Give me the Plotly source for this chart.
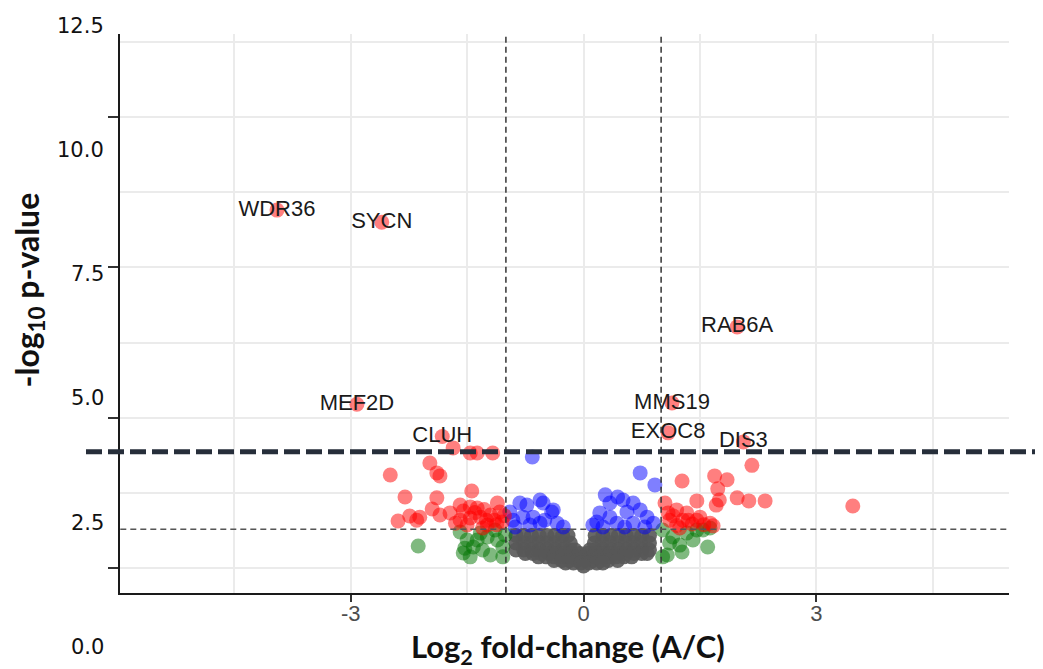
import plotly.graph_objects as go

# ---------------- data (log2 fold-change, -log10 p) ----------------
LABEL_GENES = ["WDR36", "SYCN", "MEF2D", "CLUH", "RAB6A", "MMS19", "EXOC8", "DIS3"]
LABEL_LOG2FC = [-3.95, -2.60, -2.92, -1.82, 1.98, 1.14, 1.09, 2.06]
LABEL_NLOGP = [11.9, 11.5, 5.45, 4.38, 8.02, 5.49, 4.50, 4.20]

RED_X = [-1.68, -1.46, -1.37, -1.17, -1.98, -2.49, -1.89, -1.85, -1.44, -2.30, -1.89,
         -1.59, -1.46, -1.37, -1.11, -1.95, -1.85, -1.72, -2.24, -2.11, -2.15, -2.39,
         -1.59, -1.46, -1.33, -1.20, -1.08, -1.50, -1.24, -1.05, -1.30, -1.15, -1.02,
         -1.40, -1.28, -1.55, -1.25, -1.12, -1.65,
         2.17, 1.27, 1.69, 1.85, 1.73, 1.46, 1.75, 1.71, 1.98, 2.13, 2.34, 3.47, 1.05,
         1.20, 1.33, 1.11, 1.28, 1.46, 1.63, 1.67, 1.24, 1.50, 1.40, 1.09, 1.15, 1.35,
         1.55, 1.20]
RED_Y = [4.00, 3.83, 3.83, 3.83, 3.50, 3.10, 3.17, 3.07, 2.57, 2.37, 2.34,
         2.10, 2.04, 2.00, 2.17, 1.97, 1.77, 1.84, 1.74, 1.70, 1.60, 1.57,
         1.60, 1.67, 1.70, 1.77, 1.87, 1.44, 1.44, 1.54, 1.34, 1.60, 1.75,
         1.85, 1.95, 1.90, 1.60, 1.45, 1.50,
         3.42, 2.90, 3.07, 2.94, 2.64, 2.24, 2.27, 2.10, 2.34, 2.24, 2.24, 2.07, 2.17,
         1.94, 1.84, 1.60, 1.60, 1.60, 1.50, 1.41, 1.34, 1.70, 1.47, 1.84, 1.75, 1.60,
         1.45, 1.42]

BLUE_X = [-0.66, -0.95, -0.82, -0.73, -0.56, -0.52, -0.41, -0.65, -0.78, -0.34, -0.26,
          -0.91, -0.56, -0.39, -0.50, -0.69, -0.88,
          0.28, 0.44, 0.34, 0.51, 0.64, 0.21, 0.17, 0.34, 0.56, 0.73, 0.82, 0.90, 0.64,
          0.43, 0.92, 0.73, 0.25, 0.53, 0.79, 0.12]
BLUE_Y = [3.70, 1.87, 2.17, 2.10, 2.27, 2.17, 1.87, 1.70, 1.70, 1.50, 1.37,
          1.60, 1.50, 1.94, 1.60, 1.44, 1.37,
          2.44, 2.37, 2.17, 2.27, 2.17, 1.84, 1.54, 1.70, 1.87, 1.94, 1.70, 1.50, 1.50,
          1.50, 2.77, 3.17, 1.37, 1.37, 1.37, 1.44]

GREEN_X = [-2.13, -1.59, -1.50, -1.53, -1.55, -1.37, -1.24, -1.11, -1.46, -1.30, -1.04,
           -1.20, -1.04, -1.42, -1.14, -1.33, -1.01,
           1.02, 1.15, 1.33, 1.46, 1.63, 1.60, 1.27, 1.08, 1.41, 1.11, 1.02, 1.54, 1.24]
GREEN_Y = [0.74, 1.21, 0.94, 0.67, 0.51, 0.94, 1.04, 0.94, 0.38, 0.61, 0.71,
           0.44, 0.38, 0.71, 1.27, 1.17, 1.11,
           1.27, 1.04, 1.17, 1.27, 1.34, 0.71, 0.54, 0.44, 0.94, 0.84, 0.38, 1.27, 0.77]

GRAY_X = [-0.87, -0.77, -0.67, -0.57, -0.47, -0.37, -0.27, -0.20, 0.15, 0.25, 0.35, 0.45, 0.55, 0.65, 0.75, 0.85,
          -0.87, -0.77, -0.67, -0.57, -0.47, -0.37, -0.27, -0.17, 0.14, 0.24, 0.34, 0.44, 0.54, 0.64, 0.74, 0.85,
          -0.87, -0.77, -0.67, -0.57, -0.47, -0.37, -0.27, -0.17, -0.11, 0.08, 0.15, 0.25, 0.35, 0.45, 0.55, 0.65, 0.75, 0.85,
          -0.75, -0.65, -0.55, -0.45, -0.35, -0.25, -0.15, -0.05, 0.05, 0.15, 0.25, 0.35, 0.45, 0.55, 0.65, 0.75, 0.82,
          -0.58, -0.48, -0.38, -0.28, -0.18, -0.08, 0.02, 0.12, 0.22, 0.32, 0.42, 0.52, 0.62,
          -0.38, -0.28, -0.18, -0.08, 0.02, 0.12, 0.22, 0.32, 0.44,
          -0.23, -0.13, -0.03, 0.07, 0.17, 0.25,
          0.00]
GRAY_Y = [1.09] * 16 + [0.84] * 16 + [0.61] * 18 + [0.49] * 17 + [0.38] * 13 + [0.26] * 9 + [0.18] * 6 + [0.08]

X_TICKS = [-3, 0, 3]
X_TICK_TEXT = ["-3", "0", "3"]
X_MINOR = [-4.5, -1.5, 1.5, 4.5]
Y_TICKS = [0, 5, 10, 15]
Y_MINOR = [2.5, 7.5, 12.5, 17.5]
Y_LABEL_VALUES = [0.0, 2.5, 5.0, 7.5, 10.0, 12.5]
Y_LABEL_TEXT = ["0.0", "2.5", "5.0", "7.5", "10.0", "12.5"]

FC_CUT = 1.0
P_CUT = 1.3
STRICT_CUT = 3.874

# page body has an 8px margin: size the figure to fit the window
OFF = 8
W, H = 1043 - OFF, 669 - OFF


def px_x(p):
    return (p - OFF) / W


def px_y(p):
    return (669 - p) / H


fig = go.Figure()


def pts(x, y, color, name):
    fig.add_trace(go.Scatter(x=x, y=y, mode="markers", name=name, showlegend=False,
                             marker=dict(size=15, color=color, line=dict(width=0))))


pts(GRAY_X, GRAY_Y, "rgba(88,88,88,0.9)", "NS")
pts(GREEN_X, GREEN_Y, "rgba(0,115,0,0.5)", "FC")
pts(BLUE_X, BLUE_Y, "rgba(0,0,255,0.5)", "p")
pts(RED_X, RED_Y, "rgba(255,0,0,0.5)", "p & FC")

fig.add_trace(go.Scatter(x=LABEL_LOG2FC, y=LABEL_NLOGP, mode="markers+text",
                         text=LABEL_GENES, textposition="middle center",
                         textfont=dict(family="Liberation Sans, Arial", size=22, color="#1a1a1a"),
                         marker=dict(size=15, color="rgba(255,0,0,0.5)", line=dict(width=0)),
                         showlegend=False))

# threshold lines
for xv in (-FC_CUT, FC_CUT):
    fig.add_shape(type="line", xref="x", yref="y domain", x0=xv, x1=xv, y0=0, y1=1,
                  line=dict(color="#333333", width=1.5, dash="6px,4px"))
fig.add_shape(type="line", xref="x domain", yref="y", x0=0, x1=1, y0=P_CUT, y1=P_CUT,
              line=dict(color="#555555", width=1.5, dash="6px,4px"))
fig.add_shape(type="line", xref="paper", yref="y", x0=px_x(86), x1=1.0, y0=STRICT_CUT, y1=STRICT_CUT,
              line=dict(color="#262e3a", width=5, dash="16px,6px"))

# overlay y labels
for v, t in zip(Y_LABEL_VALUES, Y_LABEL_TEXT):
    fig.add_annotation(x=px_x(106), y=px_y(647 - 49.72 * v), xref="paper", yref="paper",
                       text=t, showarrow=False, xanchor="right", yanchor="middle",
                       font=dict(family="DejaVu Sans", size=21, color="#111111"))

# axis titles
fig.add_annotation(x=px_x(567.5), y=px_y(648), xref="paper", yref="paper",
                   text="<b>Log<sub>2</sub> fold-change (A/C)</b>", showarrow=False,
                   xanchor="center", yanchor="middle",
                   font=dict(family="Lato", size=31, color="#111111"))
fig.add_annotation(x=px_x(28.5), y=px_y(290), xref="paper", yref="paper",
                   text="<b>-log<sub>10</sub> p-value</b>", showarrow=False, textangle=-90,
                   xanchor="center", yanchor="middle",
                   font=dict(family="Lato", size=32, color="#111111"))

fig.update_layout(
    width=W, height=H,
    margin=dict(l=0, r=0, t=0, b=0, pad=0),
    paper_bgcolor="white", plot_bgcolor="white",
    xaxis=dict(domain=[px_x(120.3), px_x(1009)], range=[-5.969, 5.483],
               tickvals=X_TICKS, ticktext=X_TICK_TEXT, ticks="outside", ticklen=7,
               tickwidth=2, tickcolor="#333333", ticklabelstandoff=-7,
               tickfont=dict(family="Liberation Sans, Arial", size=22, color="#4d4d4d"),
               showline=True, linecolor="#1a1a1a", linewidth=2,
               showgrid=True, gridcolor="#ebebeb", gridwidth=2, zeroline=False,
               minor=dict(tickvals=X_MINOR, showgrid=True, gridcolor="#ebebeb", gridwidth=1.5, ticks=""),
               automargin=False),
    yaxis=dict(domain=[px_y(592.7), px_y(34)], range=[-0.8106, 17.751],
               tickvals=Y_TICKS, showticklabels=False, ticks="outside", ticklen=10,
               tickwidth=2, tickcolor="#333333",
               showline=True, linecolor="#1a1a1a", linewidth=2,
               showgrid=True, gridcolor="#ebebeb", gridwidth=2, zeroline=False,
               minor=dict(tickvals=Y_MINOR, showgrid=True, gridcolor="#ebebeb", gridwidth=1.5, ticks=""),
               automargin=False),
)

fig.write_html("out.html")
